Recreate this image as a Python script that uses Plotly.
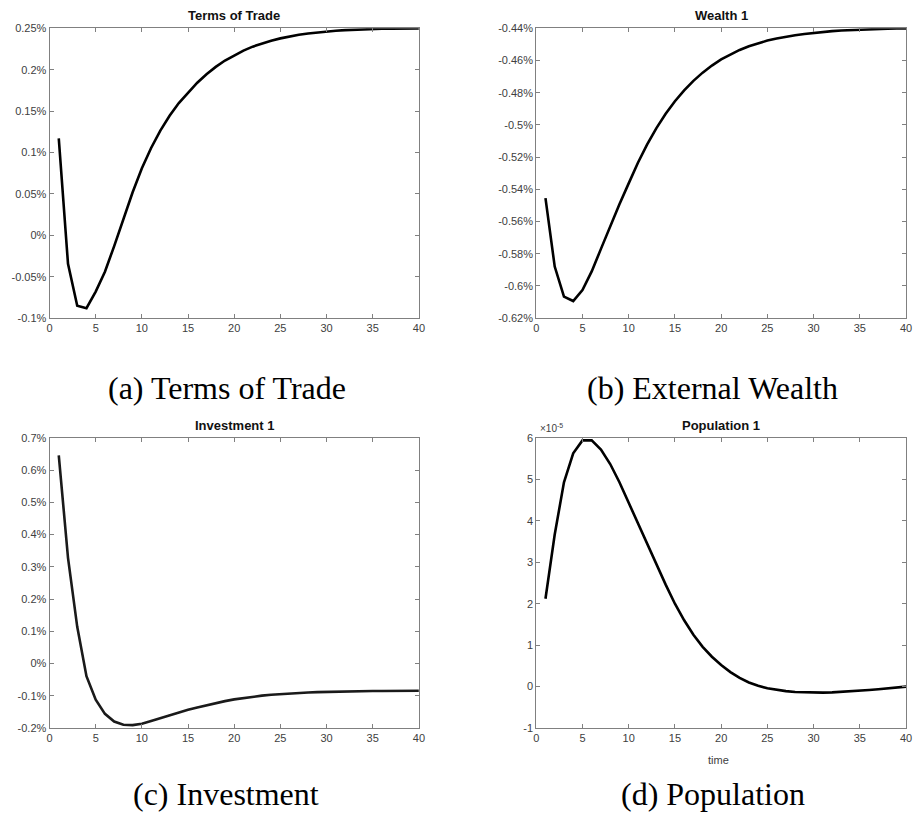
import plotly.graph_objects as go

W, H = 919, 824

periods = list(range(1, 41))

terms_of_trade = [0.117, -0.0345, -0.085, -0.088, -0.068, -0.044, -0.013, 0.020, 0.052, 0.081,
                  0.1055, 0.1265, 0.1445, 0.1598, 0.1727, 0.1843, 0.1946, 0.2035, 0.2112, 0.2177,
                  0.2232, 0.2279, 0.2318, 0.2351, 0.2379, 0.2402, 0.2422, 0.2438, 0.2452, 0.2463,
                  0.2472, 0.2479, 0.2485, 0.2489, 0.2492, 0.2495, 0.2497, 0.2498, 0.2499, 0.2500]

wealth = [-0.5455, -0.5880, -0.6067, -0.6094, -0.6026, -0.5910, -0.5770, -0.5629, -0.5493, -0.5363,
          -0.5235, -0.5121, -0.5020, -0.4931, -0.4853, -0.4785, -0.4726, -0.4675, -0.4631, -0.4593,
          -0.4561, -0.4534, -0.4511, -0.4492, -0.4476, -0.4463, -0.4452, -0.4443, -0.4435, -0.4428,
          -0.4422, -0.4417, -0.4413, -0.4410, -0.4407, -0.4405, -0.4403, -0.4402, -0.4401, -0.4400]

investment = [0.646, 0.328, 0.114, -0.039, -0.112, -0.156, -0.180, -0.190, -0.191, -0.1865,
              -0.178, -0.169, -0.160, -0.1515, -0.1435, -0.136, -0.129, -0.1225, -0.1165, -0.1112,
              -0.1067, -0.1028, -0.0995, -0.0967, -0.0944, -0.0925, -0.0909, -0.0896, -0.0885, -0.0876,
              -0.0869, -0.0863, -0.0858, -0.0854, -0.0851, -0.0849, -0.0847, -0.0846, -0.0845, -0.0845]

# population in units of 1e-5
population = [2.12, 3.67, 4.93, 5.63, 5.94, 5.94, 5.72, 5.37, 4.93, 4.44,
              3.94, 3.43, 2.93, 2.46, 2.00, 1.60, 1.25, 0.96, 0.72, 0.52,
              0.35, 0.21, 0.10, 0.02, -0.04, -0.08, -0.11, -0.13, -0.14, -0.145,
              -0.145, -0.14, -0.13, -0.117, -0.10, -0.083, -0.065, -0.045, -0.023, 0.0]

x_ticks = [0, 5, 10, 15, 20, 25, 30, 35, 40]

tot_ticks = [-0.1, -0.05, 0, 0.05, 0.1, 0.15, 0.2, 0.25]
tot_labels = ["-0.1%", "-0.05%", "0%", "0.05%", "0.1%", "0.15%", "0.2%", "0.25%"]

wealth_ticks = [-0.62, -0.60, -0.58, -0.56, -0.54, -0.52, -0.50, -0.48, -0.46, -0.44]
wealth_labels = ["-0.62%", "-0.6%", "-0.58%", "-0.56%", "-0.54%", "-0.52%", "-0.5%", "-0.48%", "-0.46%", "-0.44%"]

inv_ticks = [-0.2, -0.1, 0, 0.1, 0.2, 0.3, 0.4, 0.5, 0.6, 0.7]
inv_labels = ["-0.2%", "-0.1%", "0%", "0.1%", "0.2%", "0.3%", "0.4%", "0.5%", "0.6%", "0.7%"]

pop_ticks = [-1, 0, 1, 2, 3, 4, 5, 6]
pop_labels = ["-1", "0", "1", "2", "3", "4", "5", "6"]

panel_titles = ["Terms of Trade", "Wealth 1", "Investment 1", "Population 1"]
captions = ["(a) Terms of Trade", "(b) External Wealth", "(c) Investment", "(d) Population"]

# pixel boxes of the four plot areas: (left, right, top, bottom)
boxes = [(47, 420, 22.7, 316.7), (538.5, 912, 22.7, 316.7),
         (47, 420, 438.3, 732.7), (538.5, 912, 438.3, 732.7)]
caption_pos = [(226, 388), (717, 388), (225, 800), (717, 800)]

series = [terms_of_trade, wealth, investment, population]
yranges = [(-0.1, 0.25), (-0.62, -0.44), (-0.2, 0.7), (-1, 6)]
yticks = [(tot_ticks, tot_labels), (wealth_ticks, wealth_labels),
          (inv_ticks, inv_labels), (pop_ticks, pop_labels)]
line_colors = ["#000000", "#000000", "#1a1a1a", "#000000"]

AX = "#808080"
TXT = "#404040"
TICKFONT = dict(family="Liberation Sans, Arial, sans-serif", size=11, color=TXT)

fig = go.Figure()
annotations = []
for i in range(4):
    l, r, t, b = boxes[i]
    xd = [l / W, r / W]
    yd = [1 - b / H, 1 - t / H]
    xa = "x" if i == 0 else f"x{i+1}"
    ya = "y" if i == 0 else f"y{i+1}"
    fig.add_trace(go.Scatter(x=periods, y=series[i], mode="lines",
                             line=dict(color=line_colors[i], width=2.6),
                             xaxis=xa, yaxis=ya, showlegend=False, hoverinfo="skip"))
    xkey = "xaxis" if i == 0 else f"xaxis{i+1}"
    ykey = "yaxis" if i == 0 else f"yaxis{i+1}"
    fig.update_layout({
        xkey: dict(domain=xd, anchor=ya, range=[0, 40], tickvals=x_ticks,
                   ticktext=[str(v) for v in x_ticks],
                   showline=True, linecolor=AX, linewidth=1, mirror="ticks",
                   ticks="inside", ticklen=4, tickcolor=AX, tickwidth=1,
                   showgrid=False, zeroline=False, tickfont=TICKFONT),
        ykey: dict(domain=yd, anchor=xa, range=list(yranges[i]),
                   tickvals=yticks[i][0], ticktext=yticks[i][1],
                   showline=True, linecolor=AX, linewidth=1, mirror="ticks",
                   ticks="inside", ticklen=4, tickcolor=AX, tickwidth=1,
                   showgrid=False, zeroline=False, tickfont=TICKFONT),
    })
    annotations.append(dict(text=f"<b>{panel_titles[i]}</b>", xref="paper", yref="paper",
                            x=(l + r) / 2 / W, y=1 - t / H, xanchor="center", yanchor="bottom",
                            yshift=3, showarrow=False,
                            font=dict(family="Liberation Sans, Arial, sans-serif", size=13, color="#111111")))
    cx, cy = caption_pos[i]
    annotations.append(dict(text=captions[i], xref="paper", yref="paper",
                            x=cx / W, y=1 - cy / H, xanchor="center", yanchor="middle",
                            showarrow=False,
                            font=dict(family="Liberation Serif, Times New Roman, serif", size=32, color="#000000")))

annotations.append(dict(text="×10<sup>-5</sup>", xref="paper", yref="paper",
                        x=540 / W, y=1 - 436 / H, xanchor="left", yanchor="bottom",
                        showarrow=False,
                        font=dict(family="Liberation Sans, Arial, sans-serif", size=10, color=TXT)))
annotations.append(dict(text="time", xref="paper", yref="paper",
                        x=723 / W, y=1 - 765 / H, xanchor="center", yanchor="middle",
                        showarrow=False,
                        font=dict(family="Liberation Sans, Arial, sans-serif", size=11, color=TXT)))

fig.update_layout(width=W, height=H, margin=dict(l=0, r=0, t=0, b=0),
                  paper_bgcolor="white", plot_bgcolor="white",
                  annotations=annotations)

fig.write_html("out.html")
